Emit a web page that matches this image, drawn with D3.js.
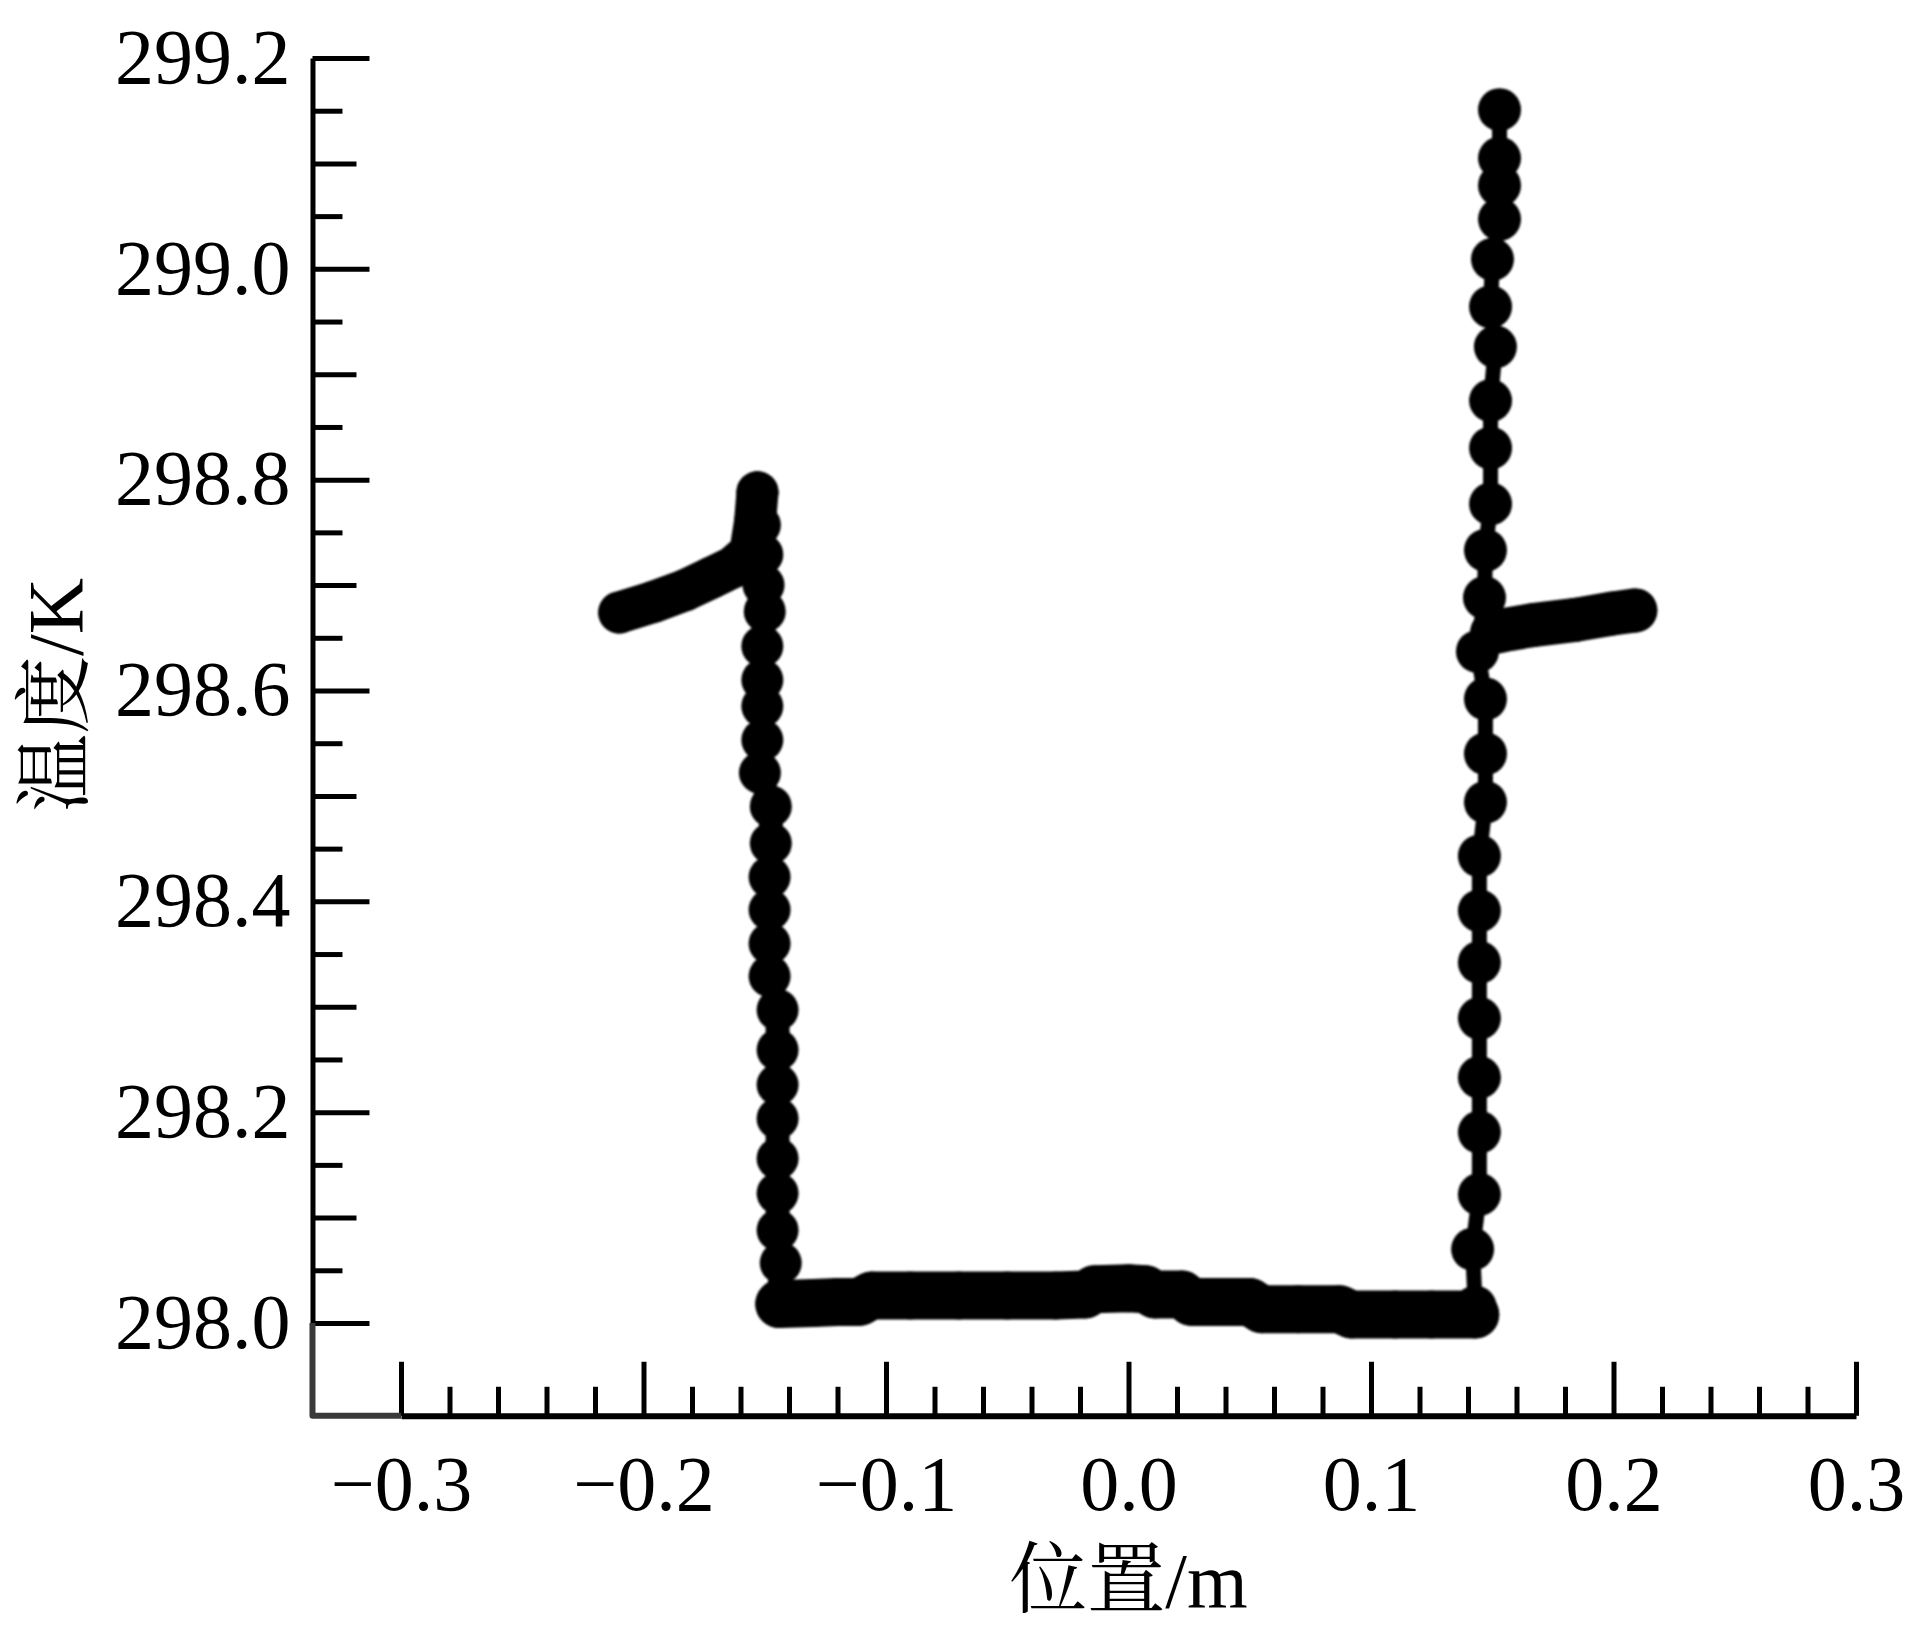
<!DOCTYPE html>
<html>
<head>
<meta charset="utf-8">
<script src="https://cdn.jsdelivr.net/npm/d3@7"></script>
<style>
  body { margin: 0; background: #fff; }
  svg { display: block; }
</style>
</head>
<body>
<div id="chart"></div>
<script>
// temperature profile: [position (m), temperature (K)]
var leftBranch = [
  [-0.210, 298.674], [-0.196, 298.684], [-0.183, 298.695], [-0.172, 298.707],
  [-0.163, 298.717], [-0.156, 298.731], [-0.154, 298.760], [-0.153, 298.788]
];

var leftWall = [
  [-0.153, 298.788], [-0.152, 298.757], [-0.151, 298.729], [-0.1505, 298.700],
  [-0.150, 298.675], [-0.151, 298.642], [-0.151, 298.610], [-0.151, 298.585],
  [-0.151, 298.553], [-0.152, 298.522], [-0.1475, 298.490], [-0.1475, 298.455],
  [-0.148, 298.423], [-0.148, 298.392], [-0.148, 298.360], [-0.148, 298.329],
  [-0.1447, 298.297], [-0.1447, 298.259], [-0.1447, 298.226], [-0.1447, 298.194],
  [-0.1447, 298.156], [-0.1447, 298.123], [-0.1447, 298.088], [-0.1434, 298.057],
  [-0.144, 298.022]
];

var bottom = [
  [-0.144, 298.018], [-0.130, 298.019], [-0.120, 298.020], [-0.111, 298.020],
  [-0.106, 298.026], [-0.090, 298.026], [-0.070, 298.026], [-0.050, 298.026],
  [-0.030, 298.026], [-0.018, 298.027], [-0.014, 298.032], [0.000, 298.033],
  [0.007, 298.032], [0.011, 298.027], [0.022, 298.027], [0.026, 298.020],
  [0.040, 298.020], [0.050, 298.020], [0.055, 298.013], [0.070, 298.013],
  [0.087, 298.013], [0.092, 298.008], [0.110, 298.008], [0.125, 298.008],
  [0.143, 298.008]
];

var rightWall = [
  [0.143, 298.015], [0.1419, 298.070], [0.1447, 298.122], [0.1447, 298.181],
  [0.1447, 298.233], [0.1447, 298.289], [0.1447, 298.342], [0.1447, 298.391],
  [0.1447, 298.443], [0.1472, 298.494], [0.1472, 298.540], [0.1472, 298.592],
  [0.1439, 298.637], [0.1468, 298.688], [0.1472, 298.733], [0.1493, 298.777],
  [0.1493, 298.830], [0.1493, 298.875], [0.1513, 298.926], [0.1493, 298.964],
  [0.1501, 299.009], [0.1530, 299.047], [0.1530, 299.079], [0.1530, 299.105],
  [0.1530, 299.151]
];

var rightBranch = [
  [0.150, 298.655], [0.154, 298.657], [0.1666, 298.662], [0.1843, 298.667],
  [0.1996, 298.673], [0.209, 298.676]
];

// tick labels
var xTickLabels = [-0.3, -0.2, -0.1, 0.0, 0.1, 0.2, 0.3];
var yTickLabels = [298.0, 298.2, 298.4, 298.6, 298.8, 299.0, 299.2];

var xTitle = "位置/m";
var yTitle = "温度/K";

// canvas
var width = 1909, height = 1631;
var font = "'Liberation Serif', 'Times New Roman', 'Noto Serif CJK SC', 'Noto Sans CJK SC', serif";

// scales
var x = d3.scaleLinear().domain([-0.3, 0.3]).range([401, 1856]);
var y = d3.scaleLinear().domain([298.0, 299.2]).range([1323, 58]);

// where the two axes cross (below/left of the labelled range)
var axisPos = -0.3365, axisTemp = 297.912;

var svg = d3.select("#chart").append("svg")
    .attr("width", width)
    .attr("height", height)
    .style("background", "#fff");

svg.append("defs").append("filter")
    .attr("id", "soft")
  .append("feGaussianBlur")
    .attr("stdDeviation", 1.3);

var fmt = d3.format(".1f");

// ---- Y axis (ticks point inward)
var yTicks = d3.range(0, 25).map(function(i) { return 298.0 + i * 0.05; });
function yKind(d) {
  var k = Math.round((d - 298.0) / 0.05);
  return k % 4 === 0 ? 2 : (k % 2 === 0 ? 1 : 0);
}
var yAxisG = svg.append("g")
    .attr("transform", "translate(" + x(axisPos) + ",0)")
    .call(d3.axisLeft(y)
      .tickValues(yTicks)
      .tickSizeInner(-30)
      .tickSizeOuter(0)
      .tickPadding(22)
      .tickFormat(function(d) {
        var lab = yTickLabels.find(function(v) { return Math.abs(v - d) < 1e-6; });
        return lab === undefined ? "" : fmt(lab);
      }));
yAxisG.select(".domain").attr("stroke", "#000").attr("stroke-width", 5);
yAxisG.selectAll(".tick line")
    .attr("stroke", "#000")
    .attr("stroke-width", 5)
    .attr("x2", function(d) { return [30, 44, 57][yKind(d)]; });
yAxisG.selectAll(".tick text")
    .attr("font-family", font)
    .attr("font-size", 78)
    .attr("fill", "#000")
    .attr("dy", "0.31em");

// ---- X axis
var xTicks = d3.range(-15, 16).map(function(i) { return i * 0.02; });
function xMajor(d) { return Math.abs(Math.round(d / 0.02)) % 5 === 0; }
var xAxisG = svg.append("g")
    .attr("transform", "translate(0," + y(axisTemp) + ")")
    .call(d3.axisBottom(x)
      .tickValues(xTicks)
      .tickSizeInner(-29)
      .tickSizeOuter(0)
      .tickPadding(39)
      .tickFormat(function(d) {
        var lab = xTickLabels.find(function(v) { return Math.abs(v - d) < 1e-6; });
        return lab === undefined ? "" : fmt(lab);
      }));
xAxisG.select(".domain").attr("stroke", "#000").attr("stroke-width", 6);
xAxisG.selectAll(".tick line")
    .attr("stroke", "#000")
    .attr("stroke-width", 5)
    .attr("y2", function(d) { return xMajor(d) ? -54 : -29; });
xAxisG.selectAll(".tick text")
    .attr("font-family", font)
    .attr("font-size", 78)
    .attr("fill", "#000");

// grey corner joining the two axes
svg.append("path")
    .attr("d", d3.line()([
      [x(axisPos), y(298.0)],
      [x(axisPos), y(axisTemp)],
      [x(-0.3), y(axisTemp)]
    ]))
    .attr("fill", "none")
    .attr("stroke", "#3a3a3a")
    .attr("stroke-width", 6)
    .attr("stroke-linejoin", "round");

// ---- profile
var line = d3.line()
    .x(function(d) { return x(d[0]); })
    .y(function(d) { return y(d[1]); });

var series = [
  {data: leftBranch, lw: 42, r: 21},
  {data: leftWall, lw: 24, r: 21},
  {data: bottom, lw: 48, r: 24},
  {data: rightWall, lw: 15, r: 21.5},
  {data: rightBranch, lw: 44, r: 22}
];

var marks = svg.append("g").attr("filter", "url(#soft)");
series.forEach(function(s) {
  marks.append("path")
      .datum(s.data)
      .attr("d", line)
      .attr("fill", "none")
      .attr("stroke", "#000")
      .attr("stroke-width", s.lw)
      .attr("stroke-linecap", "round")
      .attr("stroke-linejoin", "round");
  marks.selectAll(null)
      .data(s.data)
    .enter().append("circle")
      .attr("cx", function(d) { return x(d[0]); })
      .attr("cy", function(d) { return y(d[1]); })
      .attr("r", s.r)
      .attr("fill", "#000");
});

// ---- axis titles
svg.append("text")
    .attr("x", x(0))
    .attr("y", 1607)
    .attr("text-anchor", "middle")
    .attr("font-family", font)
    .attr("font-size", 78)
    .text(xTitle);

svg.append("text")
    .attr("transform", "translate(82,695) rotate(-90)")
    .attr("text-anchor", "middle")
    .attr("font-family", font)
    .attr("font-size", 78)
    .text(yTitle);
</script>
</body>
</html>
